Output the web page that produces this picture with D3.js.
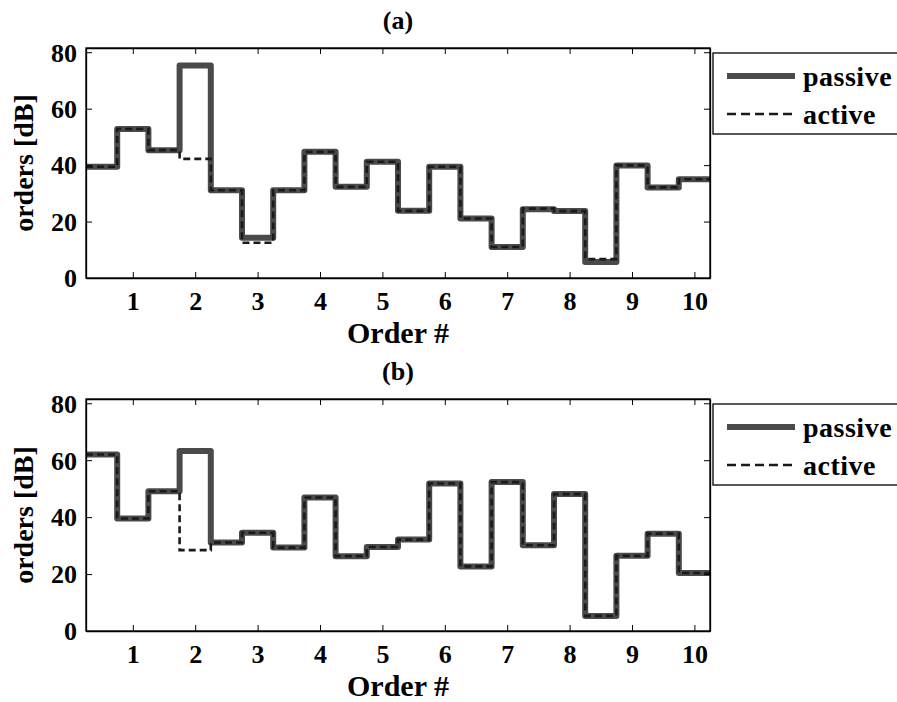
<!DOCTYPE html>
<html>
<head>
<meta charset="utf-8">
<script src="https://cdn.jsdelivr.net/npm/d3@7"></script>
<style>
    body { margin: 0; background: white; }
    text { font-family: "Liberation Serif", "Times New Roman", serif; font-weight: bold; fill: black; }
</style>
</head>
<body>
<div id="chart"></div>
<script>
//////////////// DATA ////////////////

// Order positions (centre of each stair step)
var orderCenters = [0.5, 1, 1.5, 2, 2.5, 3, 3.5, 4, 4.5, 5, 5.5, 6, 6.5, 7, 7.5, 8, 8.5, 9, 9.5, 10];
var xTicks = [1, 2, 3, 4, 5, 6, 7, 8, 9, 10];
var yTicks = [0, 20, 40, 60, 80];
var seriesNames = ["passive", "active"];
var panelTitles = ["(a)", "(b)"];

// Panel (a)
var passiveA = [39.4, 52.8, 45.3, 75.3, 31.1, 14.3, 31.1, 44.7, 32.3, 41.2, 23.8, 39.4, 21.1, 11.0, 24.4, 23.7, 5.7, 39.9, 32.1, 35.0];
var activeA  = [39.4, 52.8, 45.3, 42.2, 31.1, 12.5, 31.1, 44.7, 32.3, 41.2, 23.8, 39.4, 21.1, 11.0, 24.6, 23.7, 6.7, 39.9, 32.1, 35.0];

// Panel (b)
var passiveB = [62.0, 39.5, 49.1, 63.2, 31.1, 34.5, 29.3, 46.9, 26.3, 29.5, 32.1, 51.8, 22.7, 52.3, 30.1, 48.1, 5.3, 26.4, 34.2, 20.4];
var activeB  = [62.0, 39.5, 49.1, 28.4, 31.1, 34.5, 29.3, 46.9, 26.3, 29.5, 32.1, 51.8, 22.7, 52.3, 30.1, 48.1, 5.3, 26.4, 34.2, 20.4];

//////////////// LAYOUT ////////////////

var width = 897,
    height = 702,
    stepHalf = 0.25,
    passiveColor = "#4a4a4a",
    activeColor = "#1a1a1a",
    passiveWidth = 6,
    activeWidth = 2.6,
    activeDash = "7,4",
    fontTick = 26;

var svg = d3.select("#chart").append("svg")
    .attr("width", width)
    .attr("height", height);

svg.append("rect").attr("width", width).attr("height", height).attr("fill", "white");

var xScale = d3.scaleLinear()
    .domain([0.25, 10.25])
    .range([86, 710]);

// stair points: each value spans centre +/- 0.25
var stairPoints = function(values) {
    var pts = [];
    values.forEach(function(v, i) {
        pts.push([orderCenters[i] - stepHalf, v]);
        pts.push([orderCenters[i] + stepHalf, v]);
    });
    return pts;
};

var drawPanel = function(top, bottom, passive, active, title, idx) {
    var yScale = d3.scaleLinear()
        .domain([0, 81.5])
        .range([bottom, top]);

    var g = svg.append("g");

    var clipId = "clip" + idx;
    g.append("clipPath").attr("id", clipId)
        .append("rect")
        .attr("x", xScale.range()[0])
        .attr("y", top)
        .attr("width", xScale.range()[1] - xScale.range()[0])
        .attr("height", bottom - top);

    var line = d3.line()
        .x(function(d) { return xScale(d[0]); })
        .y(function(d) { return yScale(d[1]); });

    // passive (thick grey)
    g.append("path")
        .datum(stairPoints(passive))
        .attr("clip-path", "url(#" + clipId + ")")
        .attr("d", line)
        .attr("fill", "none")
        .attr("stroke", passiveColor)
        .attr("stroke-width", passiveWidth)
        .attr("stroke-linejoin", "round");

    // active (black dashed)
    g.append("path")
        .datum(stairPoints(active))
        .attr("clip-path", "url(#" + clipId + ")")
        .attr("d", line)
        .attr("fill", "none")
        .attr("stroke", activeColor)
        .attr("stroke-width", activeWidth)
        .attr("stroke-dasharray", activeDash);

    // Axes - ticks point inward on all four sides
    var axisBottom = d3.axisBottom(xScale).tickValues(xTicks).tickSizeInner(-6).tickSizeOuter(0);
    var axisTop = d3.axisTop(xScale).tickValues(xTicks).tickSizeInner(-6).tickSizeOuter(0).tickFormat("");
    var axisLeft = d3.axisLeft(yScale).tickValues(yTicks).tickSizeInner(-6).tickSizeOuter(0);
    var axisRight = d3.axisRight(yScale).tickValues(yTicks).tickSizeInner(-6).tickSizeOuter(0).tickFormat("");

    var gb = g.append("g").attr("transform", "translate(0," + bottom + ")").call(axisBottom);
    var gt = g.append("g").attr("transform", "translate(0," + top + ")").call(axisTop);
    var gl = g.append("g").attr("transform", "translate(" + xScale.range()[0] + ",0)").call(axisLeft);
    var gr = g.append("g").attr("transform", "translate(" + xScale.range()[1] + ",0)").call(axisRight);

    [gb, gt, gl, gr].forEach(function(a) {
        a.selectAll("path.domain").attr("stroke", "#000").attr("stroke-width", 1.3);
        a.selectAll(".tick line").attr("stroke", "#000").attr("stroke-width", 1);
    });

    // Box closed on top/right
    g.append("rect")
        .attr("x", xScale.range()[0])
        .attr("y", top)
        .attr("width", xScale.range()[1] - xScale.range()[0])
        .attr("height", bottom - top)
        .attr("fill", "none")
        .attr("stroke", "#000")
        .attr("stroke-width", 1.3);

    gb.selectAll(".tick text")
        .attr("font-size", fontTick)
        .attr("dy", null)
        .attr("y", 32);

    gl.selectAll(".tick text")
        .attr("font-size", fontTick)
        .attr("x", -9)
        .attr("dy", "0.34em");

    // Panel title
    svg.append("text")
        .attr("x", (xScale.range()[0] + xScale.range()[1]) / 2)
        .attr("y", top - 19)
        .attr("text-anchor", "middle")
        .attr("font-size", 26)
        .text(title);

    // X label
    svg.append("text")
        .attr("x", (xScale.range()[0] + xScale.range()[1]) / 2)
        .attr("y", bottom + 65)
        .attr("text-anchor", "middle")
        .attr("font-size", 30)
        .text("Order #");

    // Y label
    svg.append("text")
        .attr("transform", "translate(33," + ((top + bottom) / 2) + ") rotate(-90)")
        .attr("text-anchor", "middle")
        .attr("font-size", 28)
        .text("orders [dB]");

    // Legend
    var lg = svg.append("g").attr("transform", "translate(713," + (top + 5) + ")");
    lg.append("rect")
        .attr("width", 220)
        .attr("height", 81)
        .attr("fill", "white")
        .attr("stroke", "#000")
        .attr("stroke-width", 1.3);

    var legendRows = [
        {name: seriesNames[0], color: passiveColor, w: passiveWidth, dash: null, y: 23},
        {name: seriesNames[1], color: activeColor, w: activeWidth, dash: "9,5", y: 61}
    ];
    legendRows.forEach(function(r) {
        lg.append("line")
            .attr("x1", 14).attr("x2", 82)
            .attr("y1", r.y).attr("y2", r.y)
            .attr("stroke", r.color)
            .attr("stroke-width", r.w)
            .attr("stroke-dasharray", r.dash);
        lg.append("text")
            .attr("x", 90)
            .attr("y", r.y + 10)
            .attr("font-size", 28)
            .attr("letter-spacing", 0.5)
            .text(r.name);
    });
};

//////// Draw both panels ////////
drawPanel(48, 278, passiveA, activeA, panelTitles[0], 0);
drawPanel(399, 631, passiveB, activeB, panelTitles[1], 1);
</script>
</body>
</html>
